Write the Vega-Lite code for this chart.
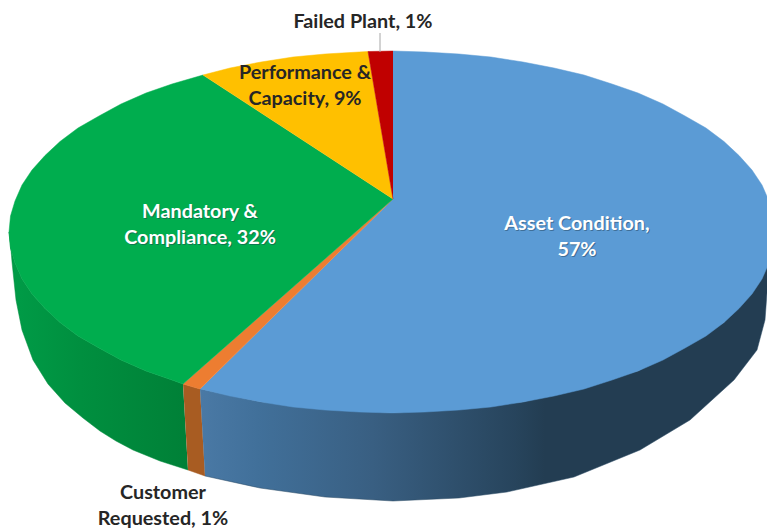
{
"$schema":"https://vega.github.io/schema/vega-lite/v6.json",
"width":767,"height":529,"padding":0,"autosize":{"type":"none"},
"background":"white","view":{"stroke":null},
"datasets":{
"outline":[
{"part":"wallGreen","i":1,"x":183,"y":384},{"part":"wallGreen","i":2,"x":172,"y":380},{"part":"wallGreen","i":3,"x":146,"y":371},{"part":"wallGreen","i":4,"x":121,"y":360},{"part":"wallGreen","i":5,"x":99,"y":348},{"part":"wallGreen","i":6,"x":78,"y":336},{"part":"wallGreen","i":7,"x":60,"y":322.5},{"part":"wallGreen","i":8,"x":45,"y":308.5},{"part":"wallGreen","i":9,"x":32,"y":294},{"part":"wallGreen","i":10,"x":22,"y":279},{"part":"wallGreen","i":11,"x":15,"y":263},{"part":"wallGreen","i":12,"x":10.5,"y":248},{"part":"wallGreen","i":13,"x":9,"y":232},{"part":"wallGreen","i":14,"x":10,"y":237},{"part":"wallGreen","i":15,"x":12,"y":262},{"part":"wallGreen","i":16,"x":16,"y":300},{"part":"wallGreen","i":17,"x":22,"y":330},{"part":"wallGreen","i":18,"x":33,"y":360},{"part":"wallGreen","i":19,"x":48,"y":384},{"part":"wallGreen","i":20,"x":65,"y":403},{"part":"wallGreen","i":21,"x":83,"y":418},{"part":"wallGreen","i":22,"x":100,"y":431},{"part":"wallGreen","i":23,"x":116,"y":441},{"part":"wallGreen","i":24,"x":133,"y":450},{"part":"wallGreen","i":25,"x":160,"y":461},{"part":"wallGreen","i":26,"x":188,"y":470},
{"part":"wallOrange","i":1,"x":183,"y":384},{"part":"wallOrange","i":2,"x":200,"y":389},{"part":"wallOrange","i":3,"x":205,"y":476},{"part":"wallOrange","i":4,"x":188,"y":470},
{"part":"wallBlue","i":1,"x":200,"y":389},{"part":"wallBlue","i":2,"x":261,"y":402},{"part":"wallBlue","i":3,"x":392,"y":413},{"part":"wallBlue","i":4,"x":523,"y":402},{"part":"wallBlue","i":5,"x":638,"y":371},{"part":"wallBlue","i":6,"x":724,"y":322.5},{"part":"wallBlue","i":7,"x":775,"y":232},{"part":"wallBlue","i":8,"x":770,"y":270},{"part":"wallBlue","i":9,"x":767,"y":293},{"part":"wallBlue","i":10,"x":765,"y":320},{"part":"wallBlue","i":11,"x":757,"y":350},{"part":"wallBlue","i":12,"x":734,"y":380},{"part":"wallBlue","i":13,"x":690,"y":420},{"part":"wallBlue","i":14,"x":640,"y":450},{"part":"wallBlue","i":15,"x":574,"y":477},{"part":"wallBlue","i":16,"x":507,"y":492},{"part":"wallBlue","i":17,"x":459,"y":498},{"part":"wallBlue","i":18,"x":393,"y":501},{"part":"wallBlue","i":19,"x":325,"y":497},{"part":"wallBlue","i":20,"x":260,"y":488},{"part":"wallBlue","i":21,"x":205,"y":476},
{"part":"Asset Condition","i":1,"x":393,"y":199},{"part":"Asset Condition","i":2,"x":393,"y":51},{"part":"Asset Condition","i":3,"x":425,"y":52},{"part":"Asset Condition","i":4,"x":459,"y":54},{"part":"Asset Condition","i":5,"x":491,"y":57},{"part":"Asset Condition","i":6,"x":523,"y":62},{"part":"Asset Condition","i":7,"x":554,"y":68},{"part":"Asset Condition","i":8,"x":584,"y":75},{"part":"Asset Condition","i":9,"x":612,"y":84},{"part":"Asset Condition","i":10,"x":638,"y":93},{"part":"Asset Condition","i":11,"x":663,"y":104},{"part":"Asset Condition","i":12,"x":685,"y":116},{"part":"Asset Condition","i":13,"x":706,"y":128},{"part":"Asset Condition","i":14,"x":724,"y":141.5},{"part":"Asset Condition","i":15,"x":739,"y":155.5},{"part":"Asset Condition","i":16,"x":752,"y":170},{"part":"Asset Condition","i":17,"x":762,"y":185},{"part":"Asset Condition","i":18,"x":769,"y":201},{"part":"Asset Condition","i":19,"x":773.5,"y":216},{"part":"Asset Condition","i":20,"x":775,"y":232},{"part":"Asset Condition","i":21,"x":773.5,"y":248},{"part":"Asset Condition","i":22,"x":769,"y":263},{"part":"Asset Condition","i":23,"x":762,"y":279},{"part":"Asset Condition","i":24,"x":752,"y":294},{"part":"Asset Condition","i":25,"x":739,"y":308.5},{"part":"Asset Condition","i":26,"x":724,"y":322.5},{"part":"Asset Condition","i":27,"x":706,"y":336},{"part":"Asset Condition","i":28,"x":685,"y":348},{"part":"Asset Condition","i":29,"x":663,"y":360},{"part":"Asset Condition","i":30,"x":638,"y":371},{"part":"Asset Condition","i":31,"x":612,"y":380},{"part":"Asset Condition","i":32,"x":584,"y":389},{"part":"Asset Condition","i":33,"x":554,"y":396},{"part":"Asset Condition","i":34,"x":523,"y":402},{"part":"Asset Condition","i":35,"x":491,"y":407},{"part":"Asset Condition","i":36,"x":459,"y":410},{"part":"Asset Condition","i":37,"x":425,"y":412},{"part":"Asset Condition","i":38,"x":392,"y":413},{"part":"Asset Condition","i":39,"x":359,"y":412},{"part":"Asset Condition","i":40,"x":325,"y":410},{"part":"Asset Condition","i":41,"x":293,"y":407},{"part":"Asset Condition","i":42,"x":261,"y":402},{"part":"Asset Condition","i":43,"x":230,"y":396},{"part":"Asset Condition","i":44,"x":200,"y":389},
{"part":"Customer Requested","i":1,"x":393,"y":199},{"part":"Customer Requested","i":2,"x":200,"y":389},{"part":"Customer Requested","i":3,"x":183,"y":384},
{"part":"Mandatory & Compliance","i":1,"x":393,"y":199},{"part":"Mandatory & Compliance","i":2,"x":183,"y":384},{"part":"Mandatory & Compliance","i":3,"x":172,"y":380},{"part":"Mandatory & Compliance","i":4,"x":146,"y":371},{"part":"Mandatory & Compliance","i":5,"x":121,"y":360},{"part":"Mandatory & Compliance","i":6,"x":99,"y":348},{"part":"Mandatory & Compliance","i":7,"x":78,"y":336},{"part":"Mandatory & Compliance","i":8,"x":60,"y":322.5},{"part":"Mandatory & Compliance","i":9,"x":45,"y":308.5},{"part":"Mandatory & Compliance","i":10,"x":32,"y":294},{"part":"Mandatory & Compliance","i":11,"x":22,"y":279},{"part":"Mandatory & Compliance","i":12,"x":15,"y":263},{"part":"Mandatory & Compliance","i":13,"x":10.5,"y":248},{"part":"Mandatory & Compliance","i":14,"x":9,"y":232},{"part":"Mandatory & Compliance","i":15,"x":10.5,"y":216},{"part":"Mandatory & Compliance","i":16,"x":15,"y":201},{"part":"Mandatory & Compliance","i":17,"x":22,"y":185},{"part":"Mandatory & Compliance","i":18,"x":32,"y":170},{"part":"Mandatory & Compliance","i":19,"x":45,"y":155.5},{"part":"Mandatory & Compliance","i":20,"x":60,"y":141.5},{"part":"Mandatory & Compliance","i":21,"x":78,"y":128},{"part":"Mandatory & Compliance","i":22,"x":99,"y":116},{"part":"Mandatory & Compliance","i":23,"x":121,"y":104},{"part":"Mandatory & Compliance","i":24,"x":146,"y":93},{"part":"Mandatory & Compliance","i":25,"x":172,"y":84},{"part":"Mandatory & Compliance","i":26,"x":203,"y":75},
{"part":"Performance & Capacity","i":1,"x":393,"y":199},{"part":"Performance & Capacity","i":2,"x":203,"y":75},{"part":"Performance & Capacity","i":3,"x":230,"y":68},{"part":"Performance & Capacity","i":4,"x":261,"y":62},{"part":"Performance & Capacity","i":5,"x":293,"y":57},{"part":"Performance & Capacity","i":6,"x":325,"y":54},{"part":"Performance & Capacity","i":7,"x":359,"y":52},{"part":"Performance & Capacity","i":8,"x":368,"y":51.5},
{"part":"Failed Plant","i":1,"x":393,"y":199},{"part":"Failed Plant","i":2,"x":368,"y":51.5},{"part":"Failed Plant","i":3,"x":393,"y":51}
],
"labels":[
{"slice":"Asset Condition","share":57,"label":"Asset Condition,\n57%","x":577,"y":224,"tone":"light"},
{"slice":"Mandatory & Compliance","share":32,"label":"Mandatory &\nCompliance, 32%","x":200,"y":212,"tone":"light"},
{"slice":"Performance & Capacity","share":9,"label":"Performance &\nCapacity, 9%","x":305,"y":73,"tone":"dark"},
{"slice":"Failed Plant","share":1,"label":"Failed Plant, 1%","x":363,"y":22,"tone":"dark"},
{"slice":"Customer Requested","share":1,"label":"Customer\nRequested, 1%","x":163,"y":493,"tone":"dark"}
],
"leader":[{"slice":"Failed Plant","x":380,"y":33,"y2":52}]
},
"data":{"name":"outline"},
"encoding":{
"x":{"field":"x","type":"quantitative","scale":{"domain":[0,767],"nice":false,"zero":false},"axis":null},
"y":{"field":"y","type":"quantitative","scale":{"domain":[529,0],"nice":false,"zero":false},"axis":null}
},
"layer":[
{"transform":[{"filter":"datum.part==='wallGreen'"}],"mark":{"type":"line","clip":true,"strokeWidth":0.5,"stroke":"#008a3c","fill":{"gradient":"linear","x1":0,"y1":0,"x2":1,"y2":0,"stops":[{"offset":0,"color":"#009c47"},{"offset":0.4,"color":"#008f3f"},{"offset":1,"color":"#008037"}]}},"encoding":{"order":{"field":"i"}}},
{"transform":[{"filter":"datum.part==='wallOrange'"}],"mark":{"type":"line","clip":true,"strokeWidth":0.5,"stroke":"#a85c22","fill":"#a85c22"},"encoding":{"order":{"field":"i"}}},
{"transform":[{"filter":"datum.part==='wallBlue'"}],"mark":{"type":"line","clip":true,"strokeWidth":0.5,"stroke":"#2b4a64","fill":{"gradient":"linear","x1":0,"y1":0,"x2":1,"y2":0,"stops":[{"offset":0,"color":"#4a79a5"},{"offset":0.1,"color":"#41709a"},{"offset":0.3,"color":"#395f82"},{"offset":0.55,"color":"#27445c"},{"offset":0.6,"color":"#233d52"},{"offset":1,"color":"#233d52"}]}},"encoding":{"order":{"field":"i"}}},
{"transform":[{"filter":"datum.part==='Asset Condition'"}],"mark":{"type":"line","clip":true,"strokeWidth":0.5,"stroke":"#5b9bd5","fill":"#5b9bd5"},"encoding":{"order":{"field":"i"}}},
{"transform":[{"filter":"datum.part==='Customer Requested'"}],"mark":{"type":"line","clip":true,"strokeWidth":0.5,"stroke":"#ed7d31","fill":"#ed7d31"},"encoding":{"order":{"field":"i"}}},
{"transform":[{"filter":"datum.part==='Mandatory & Compliance'"}],"mark":{"type":"line","clip":true,"strokeWidth":0.5,"stroke":"#00ad4e","fill":"#00ad4e"},"encoding":{"order":{"field":"i"}}},
{"transform":[{"filter":"datum.part==='Performance & Capacity'"}],"mark":{"type":"line","clip":true,"strokeWidth":0.5,"stroke":"#ffc000","fill":"#ffc000"},"encoding":{"order":{"field":"i"}}},
{"transform":[{"filter":"datum.part==='Failed Plant'"}],"mark":{"type":"line","clip":true,"strokeWidth":0.5,"stroke":"#c00000","fill":"#c00000"},"encoding":{"order":{"field":"i"}}},
{"data":{"name":"leader"},"mark":{"type":"rule","color":"#a6a6a6","strokeWidth":1},"encoding":{"y2":{"field":"y2"}}},
{"data":{"name":"labels"},"transform":[{"filter":"datum.tone==='light'"}],"mark":{"type":"text","font":"Lato","fontWeight":"bold","fontSize":19.8,"lineHeight":26,"lineBreak":"\n","align":"center","baseline":"middle","color":"#1f3a50","opacity":0.45,"dx":1,"dy":1},"encoding":{"text":{"field":"label"}}},
{"data":{"name":"labels"},"transform":[{"filter":"datum.tone==='light'"}],"mark":{"type":"text","font":"Lato","fontWeight":"bold","fontSize":19.8,"lineHeight":26,"lineBreak":"\n","align":"center","baseline":"middle","color":"#ffffff"},"encoding":{"text":{"field":"label"}}},
{"data":{"name":"labels"},"transform":[{"filter":"datum.tone==='dark'"}],"mark":{"type":"text","font":"Lato","fontWeight":"bold","fontSize":19.8,"lineHeight":26,"lineBreak":"\n","align":"center","baseline":"middle","color":"#262626"},"encoding":{"text":{"field":"label"}}}
]
}
